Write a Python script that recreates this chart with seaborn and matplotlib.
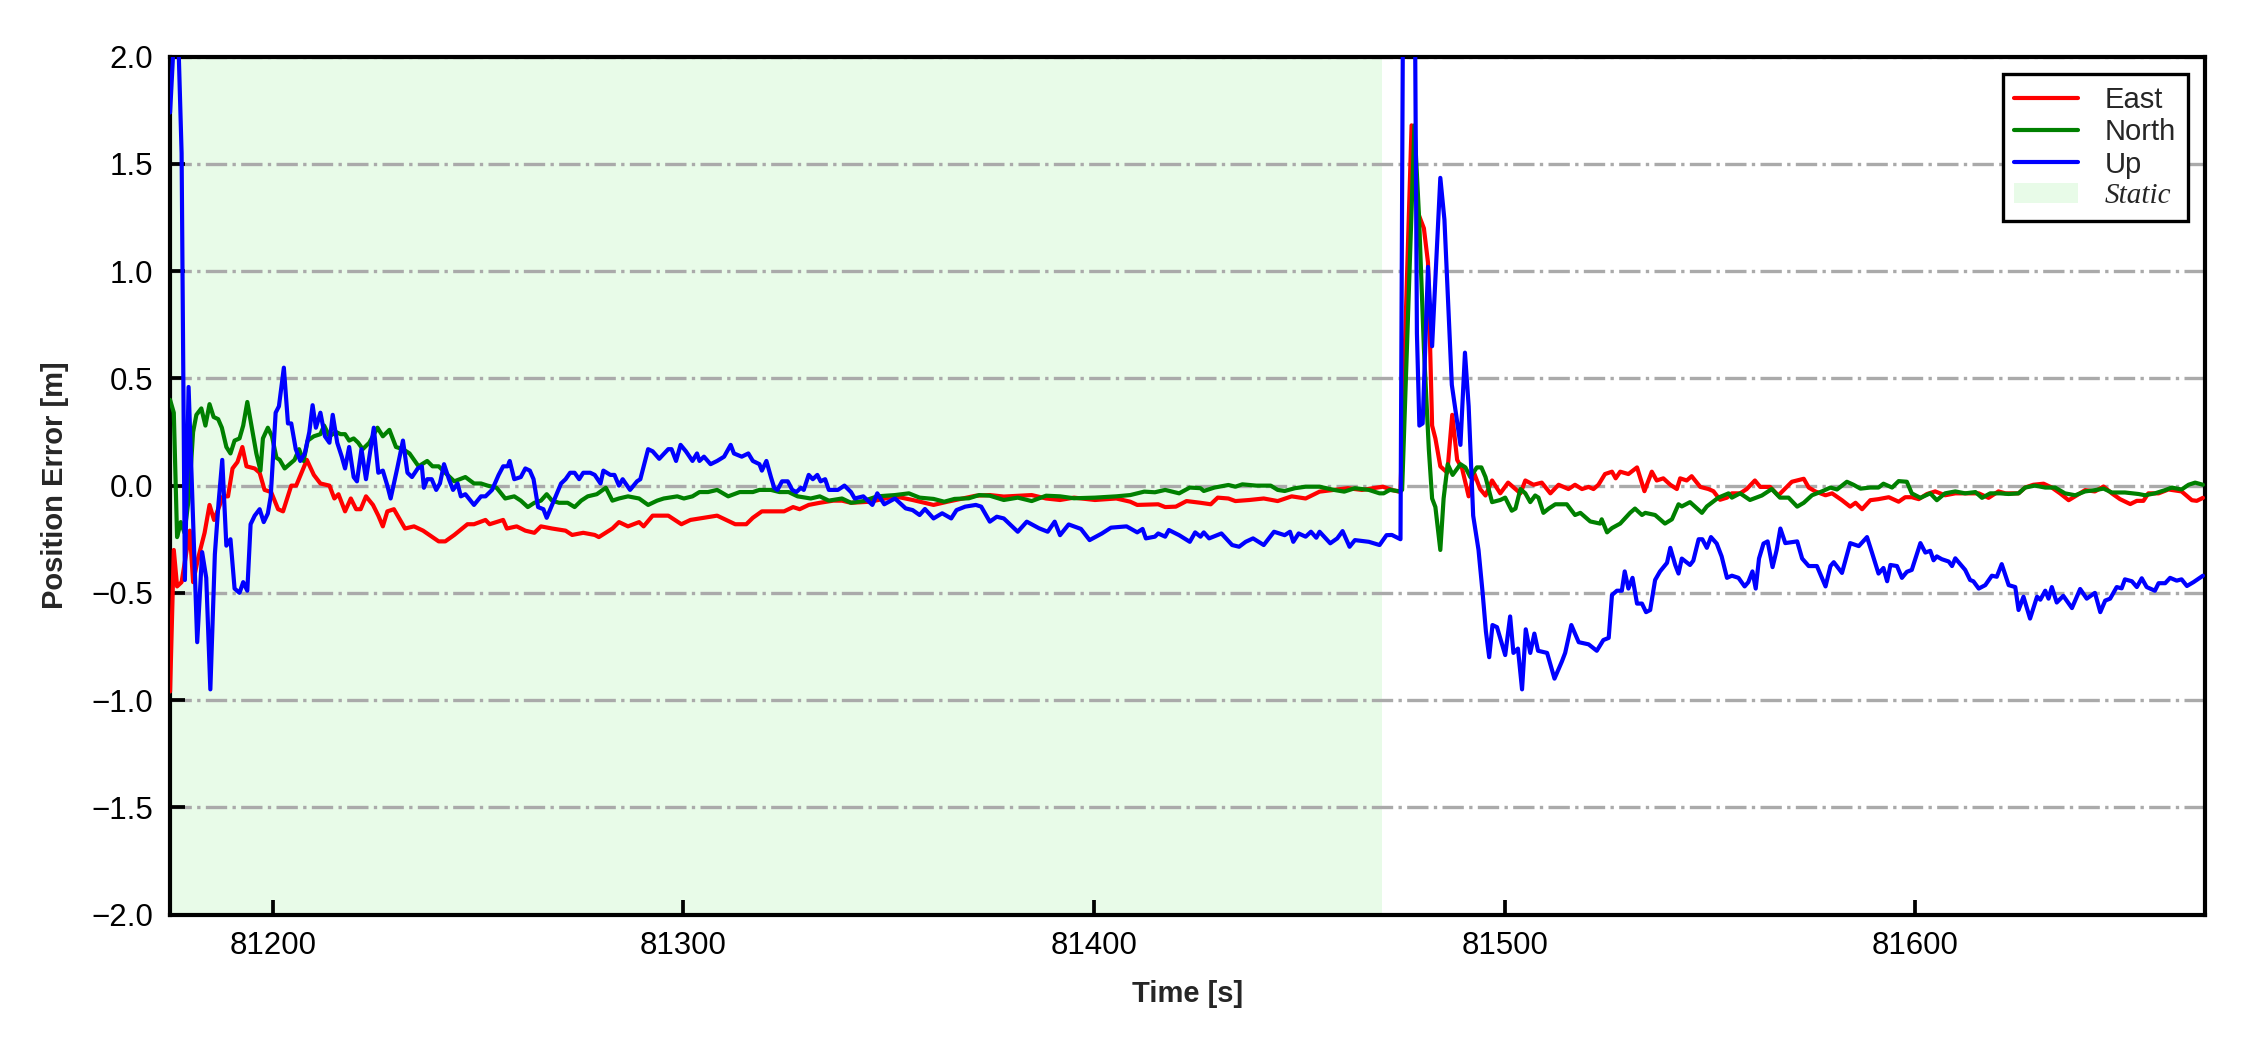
import numpy as np
import pandas as pd
import matplotlib
matplotlib.use("Agg")
import matplotlib.pyplot as plt
from matplotlib.patches import Patch
from matplotlib.lines import Line2D
import seaborn as sns

# ---------------- data ----------------
t_east = [81175.0, 81175.9, 81176.7, 81177.8, 81179.8, 81180.6, 81181.8, 81183.4, 81184.6, 81185.7,
          81186.7, 81187.9, 81189.1, 81190.2, 81191.4, 81192.6, 81193.6, 81195.6, 81196.8, 81198.0,
          81199.6, 81201.3, 81202.5, 81204.5, 81205.7, 81208.3, 81210.0, 81211.6, 81213.8, 81215.0,
          81216.0, 81217.6, 81219.0, 81220.3, 81221.4, 81222.7, 81224.4, 81225.7, 81226.8, 81227.9,
          81229.5, 81232.2, 81234.4, 81236.6, 81240.4, 81242.0, 81244.2, 81247.4, 81249.0, 81251.8,
          81252.8, 81256.1, 81257.0, 81259.4, 81261.5, 81263.7, 81265.3, 81268.0, 81271.3, 81272.9,
          81275.6, 81278.4, 81279.4, 81282.7, 81284.3, 81286.5, 81289.2, 81290.3, 81292.5, 81296.3,
          81299.5, 81301.7, 81305.0, 81308.2, 81310.4, 81312.6, 81315.3, 81316.9, 81319.1, 81322.3,
          81324.5, 81326.7, 81328.3, 81330.5, 81333.2, 81336.5, 81338.6, 81340.8,
          81345.5, 81351.5, 81355.8, 81360.9, 81364.3, 81371.2, 81374.6, 81378.0, 81384.8, 81388.3,
          81391.7, 81395.1, 81400.2, 81405.4, 81408.8, 81410.5, 81415.6, 81417.3, 81419.9, 81422.5,
          81425.9, 81428.4, 81430.1, 81432.7, 81434.4, 81437.8, 81441.3, 81444.7, 81448.1, 81451.5,
          81454.9, 81458.4, 81461.8, 81465.2, 81470.3, 81472.5, 81474.6,
          81477.3, 81478.9, 81480.3, 81481.3, 81482.3, 81483.1, 81484.3, 81486.0, 81487.2, 81488.4,
          81489.6, 81491.2, 81492.5, 81494.0, 81495.3, 81496.9, 81498.9, 81500.8, 81503.8, 81505.0,
          81507.0, 81509.0, 81511.1, 81513.1, 81515.5, 81517.1, 81518.8, 81520.4, 81521.6, 81522.8,
          81524.4, 81526.1, 81527.0, 81528.1, 81530.1, 81532.2, 81534.0, 81535.8, 81537.0, 81538.6,
          81540.3, 81541.9, 81542.7, 81544.3, 81545.5, 81547.6, 81549.6, 81550.8, 81552.4, 81554.1,
          81555.3, 81557.3, 81558.9, 81560.9, 81562.2, 81564.6, 81566.6, 81569.9, 81572.8, 81574.0,
          81575.6, 81578.1, 81579.7, 81582.1, 81584.1, 81585.4, 81587.0, 81589.0, 81591.0, 81593.5,
          81595.9, 81597.5, 81599.1, 81600.8, 81602.8, 81604.8, 81607.2, 81609.7, 81612.1, 81615.4,
          81617.8, 81620.2, 81621.9, 81625.1, 81626.7, 81628.7, 81631.2, 81633.2, 81635.2, 81637.3,
          81639.3, 81641.3, 81643.7, 81645.8, 81647.8, 81649.8, 81652.3, 81653.9, 81655.5, 81656.7,
          81659.2, 81661.6, 81664.8, 81667.3, 81668.5, 81670.0]
east = [-0.96, -0.30, -0.47, -0.45, -0.21, -0.45, -0.34, -0.22, -0.09, -0.16,
        -0.11, -0.05, -0.05, 0.08, 0.11, 0.18, 0.09, 0.08, 0.06, -0.02,
        -0.03, -0.11, -0.12, 0.00, 0.00, 0.12, 0.05, 0.01, 0.00, -0.06,
        -0.04, -0.12, -0.06, -0.11, -0.11, -0.05, -0.09, -0.14, -0.19, -0.12,
        -0.11, -0.20, -0.19, -0.21, -0.26, -0.26, -0.23, -0.18, -0.18, -0.16,
        -0.18, -0.16, -0.20, -0.19, -0.21, -0.22, -0.19, -0.20, -0.21, -0.23,
        -0.22, -0.23, -0.24, -0.20, -0.17, -0.19, -0.17, -0.19, -0.14, -0.14,
        -0.18, -0.16, -0.15, -0.14, -0.16, -0.18, -0.18, -0.15, -0.12, -0.12,
        -0.12, -0.10, -0.11, -0.09, -0.08, -0.07, -0.07, -0.08,
        -0.075, -0.05, -0.067, -0.09, -0.075, -0.047, -0.044, -0.051, -0.044, -0.06,
        -0.067, -0.056, -0.067, -0.06, -0.075, -0.09, -0.087, -0.10, -0.098, -0.072,
        -0.08, -0.087, -0.056, -0.06, -0.072, -0.067, -0.06, -0.072, -0.05, -0.06,
        -0.028, -0.02, -0.012, -0.02, -0.005, -0.02, -0.03,
        1.68, 1.27, 1.20, 1.04, 0.28, 0.22, 0.09, 0.06, 0.33, 0.12,
        0.08, -0.05, 0.06, -0.016, -0.046, 0.024, -0.036, 0.014, -0.036, 0.024,
        0.004, 0.014, -0.036, 0.004, -0.016, 0.004, -0.016, -0.006, -0.016, 0.004,
        0.054, 0.065, 0.034, 0.065, 0.054, 0.085, -0.026, 0.065, 0.024, 0.034,
        0.004, -0.016, 0.034, 0.024, 0.044, -0.006, -0.016, -0.026, -0.066, -0.056,
        -0.036, -0.036, -0.016, 0.024, -0.006, -0.006, -0.046, 0.018, 0.032, -0.009,
        -0.027, -0.045, -0.036, -0.068, -0.098, -0.08, -0.11, -0.068, -0.063, -0.054,
        -0.075, -0.054, -0.054, -0.063, -0.039, -0.027, -0.045, -0.036, -0.036, -0.036,
        -0.057, -0.027, -0.036, -0.036, -0.009, 0.004, 0.009, -0.009, -0.036, -0.068,
        -0.045, -0.021, -0.027, -0.004, -0.036, -0.063, -0.086, -0.071, -0.071, -0.036,
        -0.036, -0.018, -0.027, -0.068, -0.071, -0.057]

t_north = [81175.0, 81175.9, 81176.7, 81177.6, 81178.5, 81179.6, 81180.6, 81181.4, 81182.6, 81183.6,
           81184.6, 81185.6, 81186.7, 81187.6, 81188.7, 81189.7, 81190.7, 81191.9, 81192.8, 81193.8,
           81194.9, 81196.0, 81197.0, 81197.6, 81198.8, 81199.8, 81200.9, 81201.7, 81202.9, 81204.1,
           81205.3, 81206.4, 81207.5, 81208.5, 81210.0, 81211.6, 81212.5, 81213.8, 81215.4, 81216.5,
           81217.6, 81218.6, 81219.7, 81220.8, 81221.9, 81223.5, 81225.5, 81226.8, 81228.4, 81230.0,
           81231.7, 81233.3, 81235.5, 81237.6, 81238.9, 81240.4, 81242.0, 81244.2, 81246.9, 81249.0,
           81250.7, 81252.3, 81254.5, 81256.6, 81258.8, 81260.4, 81262.1, 81263.7, 81265.3, 81266.7,
           81268.0, 81269.7, 81271.8, 81273.5, 81275.1, 81276.7, 81278.9, 81281.1, 81282.7, 81284.3,
           81286.5, 81289.2, 81291.4, 81293.6, 81295.2, 81298.5, 81300.1, 81302.2, 81303.9, 81306.0,
           81308.2, 81310.9, 81313.7, 81316.9, 81318.5, 81321.3, 81323.4, 81325.6, 81327.8, 81331.0,
           81333.2, 81335.4, 81338.6, 81340.8, 81343.8, 81347.2, 81351.5, 81354.9, 81357.5, 81360.9,
           81363.5, 81366.0, 81369.5, 81372.0, 81374.6, 81378.0, 81381.4, 81384.8, 81388.3, 81391.7,
           81395.1, 81400.2, 81405.4, 81408.8, 81412.2, 81414.8, 81417.3, 81420.7, 81423.3, 81425.9,
           81426.7, 81429.3, 81432.7, 81434.4, 81436.1, 81439.5, 81443.0, 81444.7, 81446.4, 81448.9,
           81451.5, 81454.9, 81458.4, 81460.9, 81463.5, 81466.9, 81469.5, 81470.5, 81472.0, 81474.2,
           81475.0, 81478.0, 81479.1, 81480.3, 81481.5, 81482.3, 81483.1, 81484.3, 81485.1, 81486.1,
           81487.3, 81489.2, 81490.4, 81491.6, 81493.2, 81494.3, 81495.3, 81496.9, 81498.9, 81500.1,
           81501.7, 81502.6, 81503.8, 81505.0, 81506.2, 81507.4, 81508.2, 81509.4, 81510.7, 81512.3,
           81515.1, 81517.1, 81518.4, 81520.8, 81523.2, 81523.6, 81524.9, 81526.1, 81528.1, 81530.5,
           81531.7, 81533.4, 81534.2, 81536.6, 81539.0, 81540.7, 81542.3, 81543.1, 81545.1, 81548.0,
           81549.2, 81552.0, 81554.5, 81555.3, 81557.3, 81559.7, 81562.6, 81565.0, 81567.0, 81569.1,
           81571.2, 81572.8, 81574.8, 81577.2, 81579.3, 81580.9, 81583.3, 81584.9, 81586.6, 81589.0,
           81591.0, 81592.2, 81594.3, 81595.9, 81597.9, 81599.1, 81601.2, 81603.6, 81605.2, 81607.2,
           81609.7, 81612.1, 81614.6, 81616.2, 81618.2, 81620.6, 81622.7, 81625.1, 81626.7, 81629.1,
           81631.6, 81634.0, 81636.4, 81638.9, 81641.3, 81643.7, 81645.8, 81647.8, 81651.0, 81654.3,
           81655.9, 81658.3, 81660.8, 81662.4, 81664.8, 81666.5, 81668.1, 81670.0]
north = [0.40, 0.34, -0.24, -0.17, -0.22, -0.05, 0.25, 0.33, 0.36, 0.28,
         0.38, 0.32, 0.31, 0.27, 0.18, 0.15, 0.21, 0.22, 0.28, 0.39,
         0.27, 0.15, 0.07, 0.22, 0.27, 0.23, 0.13, 0.12, 0.08, 0.10,
         0.12, 0.17, 0.115, 0.21, 0.23, 0.24, 0.28, 0.23, 0.25, 0.24,
         0.24, 0.21, 0.22, 0.20, 0.17, 0.20, 0.27, 0.23, 0.26, 0.18,
         0.17, 0.15, 0.09, 0.115, 0.09, 0.09, 0.06, 0.02, 0.04, 0.01,
         0.01, 0.00, -0.01, -0.06, -0.05, -0.07, -0.10, -0.08, -0.07, -0.04,
         -0.07, -0.08, -0.08, -0.10, -0.07, -0.05, -0.04, -0.01, -0.07, -0.06,
         -0.05, -0.06, -0.09, -0.07, -0.06, -0.05, -0.06, -0.05, -0.03, -0.03,
         -0.02, -0.05, -0.03, -0.03, -0.02, -0.02, -0.03, -0.03, -0.05, -0.06,
         -0.05, -0.07, -0.06, -0.08, -0.072, -0.05, -0.044, -0.036, -0.056, -0.062,
         -0.075, -0.062, -0.059, -0.044, -0.047, -0.067, -0.056, -0.072, -0.047, -0.05,
         -0.059, -0.056, -0.05, -0.044, -0.028, -0.031, -0.02, -0.036, -0.009, -0.012,
         -0.025, -0.009, 0.003, -0.005, 0.006, 0.00, 0.00, -0.02, -0.025, -0.012,
         -0.005, -0.005, -0.02, -0.028, -0.012, -0.02, -0.036, -0.036, -0.02, -0.026,
         -0.02, 1.68, 1.26, 0.64, 0.17, -0.06, -0.10, -0.30, -0.06, 0.10,
         0.05, 0.10, 0.085, 0.04, 0.085, 0.085, 0.04, -0.077, -0.067, -0.056,
         -0.117, -0.107, -0.016, -0.036, -0.077, -0.046, -0.056, -0.127, -0.107, -0.087,
         -0.087, -0.137, -0.127, -0.167, -0.177, -0.157, -0.218, -0.198, -0.177, -0.127,
         -0.107, -0.137, -0.127, -0.137, -0.177, -0.157, -0.087, -0.097, -0.077, -0.127,
         -0.097, -0.056, -0.036, -0.056, -0.036, -0.067, -0.046, -0.016, -0.056, -0.056,
         -0.098, -0.080, -0.045, -0.027, -0.009, -0.018, 0.018, 0.004, -0.014, -0.009,
         -0.009, 0.009, -0.009, 0.021, 0.018, -0.036, -0.057, -0.036, -0.068, -0.036,
         -0.027, -0.036, -0.030, -0.057, -0.036, -0.036, -0.039, -0.036, -0.009, 0.000,
         -0.009, -0.009, -0.036, -0.045, -0.027, -0.021, -0.014, -0.032, -0.032, -0.039,
         -0.045, -0.036, -0.021, -0.009, -0.018, 0.004, 0.014, 0.004]

t_up = [81175.0, 81176.1, 81176.9, 81177.8, 81178.6, 81179.5, 81181.6, 81182.8, 81183.8, 81184.8,
        81185.9, 81186.8, 81187.7, 81188.7, 81189.7, 81190.7, 81191.9, 81192.8, 81193.8, 81194.6,
        81195.6, 81196.8, 81197.8, 81198.8, 81199.5, 81200.7, 81201.5, 81202.7, 81203.7, 81204.5,
        81205.6, 81206.7, 81207.8, 81208.9, 81209.7, 81210.5, 81211.6, 81212.7, 81213.8, 81214.6,
        81215.7, 81216.8, 81217.6, 81218.6, 81219.7, 81220.5, 81221.6, 81222.7, 81224.6, 81225.7,
        81226.8, 81227.9, 81228.7, 81230.3, 81231.7, 81232.8, 81233.9, 81235.3, 81236.3, 81236.8,
        81237.6, 81238.7, 81239.8, 81240.7, 81241.7, 81242.9, 81243.9, 81245.0, 81245.8, 81246.9,
        81249.0, 81250.7, 81251.8, 81253.4, 81255.0, 81256.1, 81257.2, 81257.7, 81258.8, 81260.4,
        81261.5, 81262.6, 81263.5, 81264.6, 81265.9, 81266.7, 81267.8, 81269.1, 81270.2, 81271.3,
        81272.4, 81273.5, 81274.6, 81275.6, 81277.3, 81278.4, 81279.8, 81280.5, 81282.2, 81283.2,
        81284.3, 81285.2, 81287.0, 81288.7, 81289.5, 81291.4, 81292.5, 81294.1, 81296.3, 81297.1,
        81298.2, 81299.3, 81300.6, 81302.2, 81303.3, 81303.9, 81305.0, 81306.6, 81308.2, 81309.9,
        81311.5, 81312.3, 81314.2, 81315.8, 81316.9, 81318.5, 81319.1, 81320.2, 81321.3, 81322.1,
        81322.9, 81324.0, 81325.4, 81326.5, 81327.5, 81328.6, 81329.3, 81330.5, 81331.5, 81332.6,
        81333.4, 81334.5, 81335.4, 81337.6, 81339.2, 81340.8, 81341.7, 81343.8, 81346.0, 81347.2,
        81348.9, 81351.5, 81354.1, 81355.8, 81357.5, 81358.8, 81360.9, 81363.0, 81365.2, 81366.5,
        81368.6, 81371.2, 81372.5, 81374.6, 81376.3, 81378.0, 81381.4, 81383.6, 81386.6, 81388.7,
        81390.4, 81391.7, 81393.8, 81396.8, 81398.9, 81401.9, 81404.1, 81407.9, 81410.5, 81411.8,
        81412.6, 81414.8, 81415.6, 81417.3, 81418.2, 81420.7, 81423.3, 81424.6, 81425.9, 81426.7,
        81428.0, 81431.0, 81433.6, 81435.3, 81436.9, 81438.7, 81441.3, 81443.8, 81446.4, 81447.7,
        81448.5, 81449.8, 81451.5, 81452.8, 81454.1, 81454.9, 81457.5, 81459.2, 81460.5, 81462.2,
        81463.5, 81466.9, 81469.5, 81471.2, 81472.5, 81474.6, 81475.3, 81477.5, 81478.1, 81478.6,
        81479.2, 81480.0, 81481.3, 81482.3, 81484.3, 81485.3, 81487.1, 81489.2, 81490.3, 81491.2,
        81492.3, 81493.6, 81494.6, 81495.4, 81496.2, 81497.0, 81498.1, 81500.1, 81501.3, 81502.1,
        81503.2, 81504.2, 81505.1, 81506.2, 81507.2, 81508.1, 81510.3, 81512.1, 81513.9, 81514.7,
        81516.2, 81518.0, 81520.4, 81522.4, 81524.0, 81525.3, 81526.1, 81527.3, 81528.5, 81529.2,
        81530.1, 81531.1, 81532.2, 81533.4, 81534.4, 81535.4, 81536.6, 81537.8, 81539.5, 81540.3,
        81541.5, 81542.3, 81543.1, 81545.1, 81545.9, 81547.2, 81548.1, 81549.2, 81550.2, 81551.6,
        81552.8, 81554.1, 81555.3, 81556.9, 81558.4, 81559.3, 81560.3, 81561.1, 81561.9, 81563.0,
        81564.0, 81565.2, 81566.2, 81567.1, 81568.3, 81571.2, 81572.4, 81574.0, 81576.0, 81578.1,
        81579.3, 81580.1, 81582.1, 81584.1, 81586.2, 81588.2, 81589.4, 81591.0, 81592.2, 81593.1,
        81593.9, 81595.5, 81596.7, 81597.9, 81599.1, 81601.2, 81602.4, 81603.6, 81604.4, 81605.2,
        81606.4, 81608.1, 81608.9, 81609.7, 81610.9, 81612.1, 81613.3, 81614.1, 81615.4, 81617.0,
        81618.6, 81619.8, 81621.0, 81622.7, 81624.3, 81625.1, 81626.3, 81627.9, 81629.6, 81630.4,
        81631.6, 81632.4, 81633.2, 81634.4, 81636.0, 81638.1, 81640.1, 81641.7, 81643.7, 81645.0,
        81646.2, 81647.4, 81649.0, 81650.2, 81651.0, 81652.7, 81653.9, 81655.1, 81656.3, 81658.3,
        81659.2, 81660.8, 81662.0, 81663.6, 81664.8, 81666.1, 81667.7, 81670.0]
up = [1.74, 2.15, 2.15, 1.55, -0.44, 0.46, -0.73, -0.31, -0.43, -0.95,
      -0.32, -0.08, 0.12, -0.28, -0.25, -0.48, -0.50, -0.45, -0.49, -0.18,
      -0.14, -0.11, -0.17, -0.13, -0.05, 0.34, 0.37, 0.55, 0.29, 0.29,
      0.17, 0.115, 0.15, 0.25, 0.375, 0.27, 0.34, 0.23, 0.20, 0.33,
      0.20, 0.135, 0.08, 0.18, 0.04, 0.02, 0.17, 0.03, 0.27, 0.06,
      0.07, 0.00, -0.06, 0.08, 0.21, 0.06, 0.04, 0.08, 0.09, -0.01,
      0.03, 0.03, -0.02, 0.01, 0.10, 0.03, -0.02, 0.01, -0.05, -0.04,
      -0.09, -0.05, -0.05, -0.02, 0.05, 0.09, 0.09, 0.115, 0.03, 0.04,
      0.08, 0.07, 0.03, -0.10, -0.11, -0.15, -0.10, -0.04, 0.01, 0.03,
      0.06, 0.06, 0.03, 0.06, 0.06, 0.05, 0.01, 0.07, 0.05, 0.05,
      0.00, 0.03, -0.02, 0.02, 0.03, 0.17, 0.16, 0.125, 0.17, 0.17,
      0.115, 0.19, 0.16, 0.115, 0.15, 0.115, 0.135, 0.10, 0.115, 0.135,
      0.19, 0.15, 0.135, 0.15, 0.115, 0.10, 0.07, 0.115, 0.04, -0.01,
      -0.02, 0.02, 0.02, -0.02, -0.03, -0.01, -0.02, 0.05, 0.03, 0.05,
      0.02, 0.03, -0.02, -0.02, 0.00, -0.03, -0.06, -0.05, -0.09, -0.036,
      -0.087, -0.06, -0.106, -0.114, -0.137, -0.109, -0.153, -0.129, -0.153, -0.114,
      -0.098, -0.090, -0.098, -0.168, -0.145, -0.153, -0.215, -0.168, -0.199, -0.215,
      -0.168, -0.231, -0.181, -0.202, -0.254, -0.223, -0.196, -0.190, -0.218, -0.202,
      -0.246, -0.238, -0.223, -0.238, -0.207, -0.231, -0.262, -0.218, -0.238, -0.218,
      -0.246, -0.223, -0.277, -0.285, -0.262, -0.246, -0.277, -0.215, -0.231, -0.215,
      -0.262, -0.223, -0.238, -0.215, -0.243, -0.215, -0.269, -0.246, -0.212, -0.285,
      -0.254, -0.262, -0.277, -0.231, -0.23, -0.25, 2.6, 2.8, 2.3, 0.71,
      0.28, 0.29, 1.02, 0.65, 1.435, 1.24, 0.47, 0.19, 0.62, 0.37,
      -0.14, -0.30, -0.50, -0.68, -0.80, -0.65, -0.66, -0.79, -0.61, -0.78,
      -0.76, -0.95, -0.67, -0.78, -0.69, -0.77, -0.78, -0.90, -0.82, -0.78,
      -0.65, -0.73, -0.74, -0.77, -0.72, -0.71, -0.51, -0.49, -0.49, -0.40,
      -0.48, -0.43, -0.55, -0.55, -0.59, -0.58, -0.44, -0.40, -0.36, -0.29,
      -0.37, -0.41, -0.34, -0.37, -0.35, -0.25, -0.25, -0.29, -0.24, -0.27,
      -0.33, -0.43, -0.42, -0.43, -0.47, -0.45, -0.40, -0.48, -0.34, -0.27,
      -0.26, -0.38, -0.30, -0.20, -0.268, -0.26, -0.34, -0.375, -0.375, -0.47,
      -0.375, -0.357, -0.407, -0.268, -0.282, -0.24, -0.312, -0.41, -0.384, -0.446,
      -0.37, -0.375, -0.43, -0.402, -0.393, -0.268, -0.312, -0.304, -0.348, -0.33,
      -0.343, -0.354, -0.375, -0.339, -0.366, -0.393, -0.44, -0.446, -0.48, -0.464,
      -0.42, -0.425, -0.366, -0.464, -0.473, -0.58, -0.518, -0.62, -0.518, -0.532,
      -0.49, -0.527, -0.473, -0.545, -0.514, -0.571, -0.482, -0.527, -0.50, -0.59,
      -0.536, -0.527, -0.473, -0.479, -0.437, -0.446, -0.473, -0.432, -0.473, -0.49,
      -0.455, -0.455, -0.43, -0.443, -0.437, -0.468, -0.45, -0.42]

components = ["East", "North", "Up"]
line_colors = ["red", "green", "blue"]
static_start, static_end = 81175.0, 81470.0
x_range = (81175.0, 81670.5)
y_range = (-2.0, 2.0)
y_ticks = [-2.0, -1.5, -1.0, -0.5, 0.0, 0.5, 1.0, 1.5, 2.0]
x_ticks = [81200, 81300, 81400, 81500, 81600]

# ---------------- build long-form frame ----------------
frames = []
for name, tt, vv in zip(components, [t_east, t_north, t_up], [east, north, up]):
    frames.append(pd.DataFrame({"Time": tt, "Error": vv, "Component": name}))
df = pd.concat(frames, ignore_index=True)

# ---------------- style ----------------
sns.set_style("white")
plt.rcParams["font.family"] = ["Liberation Sans", "DejaVu Sans"]
plt.rcParams["axes.unicode_minus"] = True

fig = plt.figure(figsize=(7.5, 3.5), dpi=300)
ax = fig.add_axes([0.0756, 0.129, 0.9044, 0.817])

ax.axvspan(static_start, static_end, color="lightgreen", alpha=0.2, lw=0, zorder=0)

sns.lineplot(data=df, x="Time", y="Error", hue="Component", hue_order=components,
             palette=dict(zip(components, line_colors)), estimator=None, sort=False,
             linewidth=1.0, ax=ax, legend=False, zorder=3)

ax.set_xlim(*x_range)
ax.set_ylim(*y_range)
ax.set_yticks(y_ticks)
ax.set_xticks(x_ticks)
ax.yaxis.grid(True, linestyle="-.", color="#aaaaaa", linewidth=0.8, zorder=1)
ax.xaxis.grid(False)
ax.set_axisbelow(True)

for s in ax.spines.values():
    s.set_visible(True)
    s.set_color("black")
    s.set_linewidth(1.0)

ax.tick_params(axis="both", direction="in", length=3.5, width=0.9, labelsize=7.5,
               colors="black", pad=4, left=True, bottom=True)

ax.set_xlabel("Time [s]", fontsize=7, fontweight="bold", labelpad=4.5)
ax.set_ylabel("Position Error [m]", fontsize=7, fontweight="bold", labelpad=5.5)

handles = [Line2D([0], [0], color=c, lw=1.0) for c in line_colors]
handles.append(Patch(facecolor="lightgreen", alpha=0.2, edgecolor="none"))
labels = components + ["Static"]
leg = ax.legend(handles, labels, loc="upper right", fontsize=7, frameon=True,
                fancybox=False, edgecolor="black", framealpha=1.0,
                labelspacing=0.15, handlelength=2.2, handletextpad=0.9,
                borderpad=0.4, borderaxespad=0.6)
leg.get_frame().set_linewidth(0.8)
leg.get_texts()[-1].set_fontfamily(["Liberation Serif", "DejaVu Serif"])
leg.get_texts()[-1].set_fontstyle("italic")

fig.savefig("out.png", dpi=300, facecolor="white")
